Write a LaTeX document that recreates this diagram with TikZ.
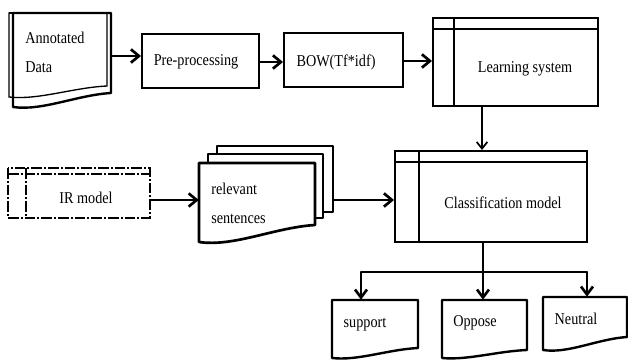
\documentclass[tikz,border=0pt]{standalone}
\usepackage{fontspec}
\setmainfont{Liberation Serif}[FakeStretch=0.86]
\usetikzlibrary{arrows.meta,fit,calc}

% document outline: [options]{x left}{x right}{y top}{y bottom-left}{y bottom-right}
\newcommand\docdraw[6][]{%
  \draw[#1] (#2,#4) -- (#3,#4) -- (#3,#6)
    .. controls ({#2+0.65*(#3-#2)},{#6+0.15*(#5-#6)}) and ({#2+0.3*(#3-#2)},{#5+0.3*(#5-#6)})
    .. (#2,#5) -- cycle;}

\begin{document}
\begin{tikzpicture}[x=0.75pt,y=-0.75pt,
  box/.style={draw,line width=1.5pt,inner sep=0pt},
  area/.style={inner sep=0pt},
  inner/.style={line width=1.5pt},
  lbl/.style={font=\fontsize{12.4}{14}\selectfont,inner sep=0pt},
  lbltwo/.style={font=\fontsize{12.4}{21.75}\selectfont,inner sep=0pt,align=left,anchor=west},
  arr/.style={line width=2.2pt,-{Straight Barb[length=6pt,width=10pt,line width=2pt]}},
  tarr/.style={line width=1.2pt,-{Straight Barb[length=5pt,width=8pt,line width=1.3pt]}},
  barr/.style={line width=1.8pt,-{Straight Barb[length=6pt,width=9pt,line width=2pt]}},
  docline/.style={line width=1.8pt,line join=round},
  pageline/.style={line width=2pt,fill=white,line join=round},
  irline/.style={line width=1.5pt,dash pattern=on 8pt off 1.5pt on 1.5pt off 1.5pt}]

\useasboundingbox (0,0) rectangle (628,360);

% ---- Annotated Data (stacked document) ----
\docdraw[line width=1pt]{9}{107}{13}{97}{86}
\docdraw[docline]{13}{111}{13}{107}{93}
\draw[line width=2pt] (9,13) -- (111,13);
\node[area,fit={(9,13)(111,107)}] (ann) {};
\node[lbltwo] (anntext) at (25,52) {Annotated\\Data};

% ---- Pre-processing ----
\node[box,fit={(142,34)(259,88)}] (pre) {};
\node[lbl] (pretext) at (196,62) {Pre-processing};

% ---- BOW ----
\node[box,fit={(284,33)(403,87)}] (bow) {};
\node[lbl] (bowtext) at (336,62) {BOW(Tf*idf)};

% ---- Learning system ----
\node[box,fit={(433,18)(598,106)}] (learn) {};
\draw[inner] (433,29) -- (598,29);
\draw[inner] (454,18) -- (454,106);
\node[lbl] (learntext) at (525,69) {Learning system};

% ---- IR model ----
\draw[irline] (8,168) rectangle (150,218);
\draw[irline] (8,174) -- (150,174);
\draw[irline] (26,168) -- (26,218);
\node[area,fit={(8,168)(150,218)}] (ir) {};
\node[lbl] (irtext) at (86,198) {IR model};

% ---- relevant sentences (page stack) ----
\draw[pageline] (217,146) rectangle (333,212);
\draw[pageline] (208,154) rectangle (323,218);
\docdraw[pageline]{199}{315}{163}{242}{225}
\node[area,fit={(199,146)(333,242)}] (rel) {};
\node[lbltwo] (reltext) at (211,203) {relevant\\sentences};

% ---- Classification model ----
\node[box,fit={(395,151)(587,242)}] (cls) {};
\draw[inner] (395,162) -- (587,162);
\draw[inner] (419,151) -- (419,242);
\node[lbl] (clstext) at (503,203) {Classification model};

% ---- outputs ----
\docdraw[docline]{332}{418}{300}{358}{348}
\node[area,fit={(332,300)(418,358)}] (sup) {};
\node[lbl] (suptext) at (365,325) {support};

\docdraw[docline]{442}{527}{300}{358}{350}
\node[area,fit={(442,300)(527,358)}] (opp) {};
\node[lbl] (opptext) at (475,323) {Oppose};

\docdraw[docline]{543}{627}{297}{350}{337}
\node[area,fit={(543,297)(627,350)}] (neu) {};
\node[lbl] (neutext) at (576,319) {Neutral};

% ---- connectors ----
\draw[arr] (ann.east |- 0,56) -- (pre.west |- 0,56);
\draw[arr] (pre.east |- 0,62) -- (bow.west |- 0,62);
\draw[arr] (bow.east |- 0,61) -- (learn.west |- 0,61);
\draw[tarr] (learn.south -| 482,0) -- (cls.north -| 482,0);
\draw[arr] (ir.east |- 0,200) -- (rel.west |- 0,200);
\draw[arr] (rel.east |- 0,200) -- (cls.west |- 0,200);

\coordinate (bl) at (361,272);
\coordinate (bm) at (483,272);
\coordinate (br) at (587,272);
\draw[line width=1.8pt,line cap=round] (bl) -- (br);
\draw[barr] (cls.south -| bm) -- (opp.north -| bm);
\draw[barr] (bl) -- (sup.north -| bl);
\draw[barr] (br) -- (neu.north -| br);
\end{tikzpicture}
\end{document}
